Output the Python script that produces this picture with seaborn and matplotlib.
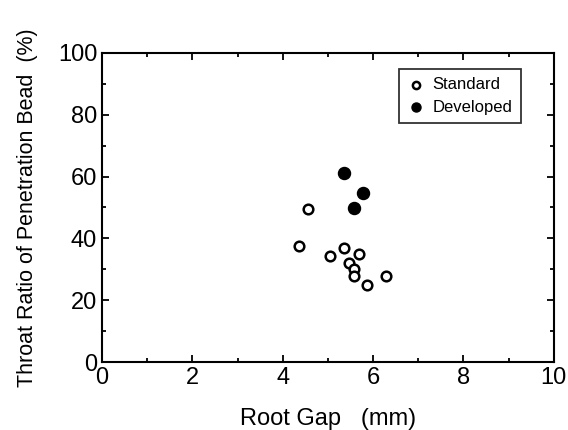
import numpy as np
import matplotlib
matplotlib.use("Agg")
import matplotlib.pyplot as plt
import seaborn as sns
from matplotlib.ticker import MultipleLocator

# --- data ---
standard_gap = [4.55, 4.36, 5.36, 5.04, 5.68, 5.47, 5.58, 5.58, 6.28, 5.86]
standard_ratio = [49.6, 37.7, 37.0, 34.2, 34.9, 32.0, 30.0, 27.8, 27.8, 24.8]
developed_gap = [5.36, 5.78, 5.58]
developed_ratio = [61.2, 54.7, 49.8]

sns.set_theme(style="ticks")
plt.rcParams['font.family'] = ['Liberation Sans', 'DejaVu Sans']
plt.rcParams['text.color'] = 'black'
plt.rcParams['axes.labelcolor'] = 'black'
plt.rcParams['xtick.color'] = 'black'
plt.rcParams['ytick.color'] = 'black'

fig = plt.figure(figsize=(5.68, 4.30), dpi=100)
ax = fig.add_axes([0.1796, 0.158, 0.7954, 0.719])

sns.scatterplot(x=standard_gap, y=standard_ratio, ax=ax, marker='o', s=48,
                color='black', facecolor='white', edgecolor='black',
                linewidth=1.8, label='Standard', zorder=3)
sns.scatterplot(x=developed_gap, y=developed_ratio, ax=ax, marker='o', s=75,
                color='black', facecolor='black', edgecolor='black',
                linewidth=1, label='Developed', zorder=3)

ax.set_xlim(0, 10)
ax.set_ylim(0, 100)
ax.xaxis.set_major_locator(MultipleLocator(2))
ax.xaxis.set_minor_locator(MultipleLocator(1))
ax.yaxis.set_major_locator(MultipleLocator(20))
ax.yaxis.set_minor_locator(MultipleLocator(10))
ax.tick_params(which='both', direction='in', top=True, right=True,
               width=1.3, colors='black', labelsize=17)
ax.tick_params(which='major', length=5)
ax.tick_params(which='minor', length=3)
for sp in ax.spines.values():
    sp.set_linewidth(1.5)
    sp.set_color('black')

ax.set_xlabel('Root Gap   (mm)', fontsize=17, labelpad=14)
ax.set_ylabel('Throat Ratio of Penetration Bead  (%)', fontsize=15.5, labelpad=14)

leg = ax.legend(loc='upper right', bbox_to_anchor=(0.945, 0.975), frameon=True,
                fancybox=False, edgecolor='black', fontsize=12,
                handletextpad=0.5, borderpad=0.5, labelspacing=0.45,
                handlelength=1.0, markerscale=0.75)
leg.get_frame().set_linewidth(1.3)

plt.savefig('out.png', dpi=100)
